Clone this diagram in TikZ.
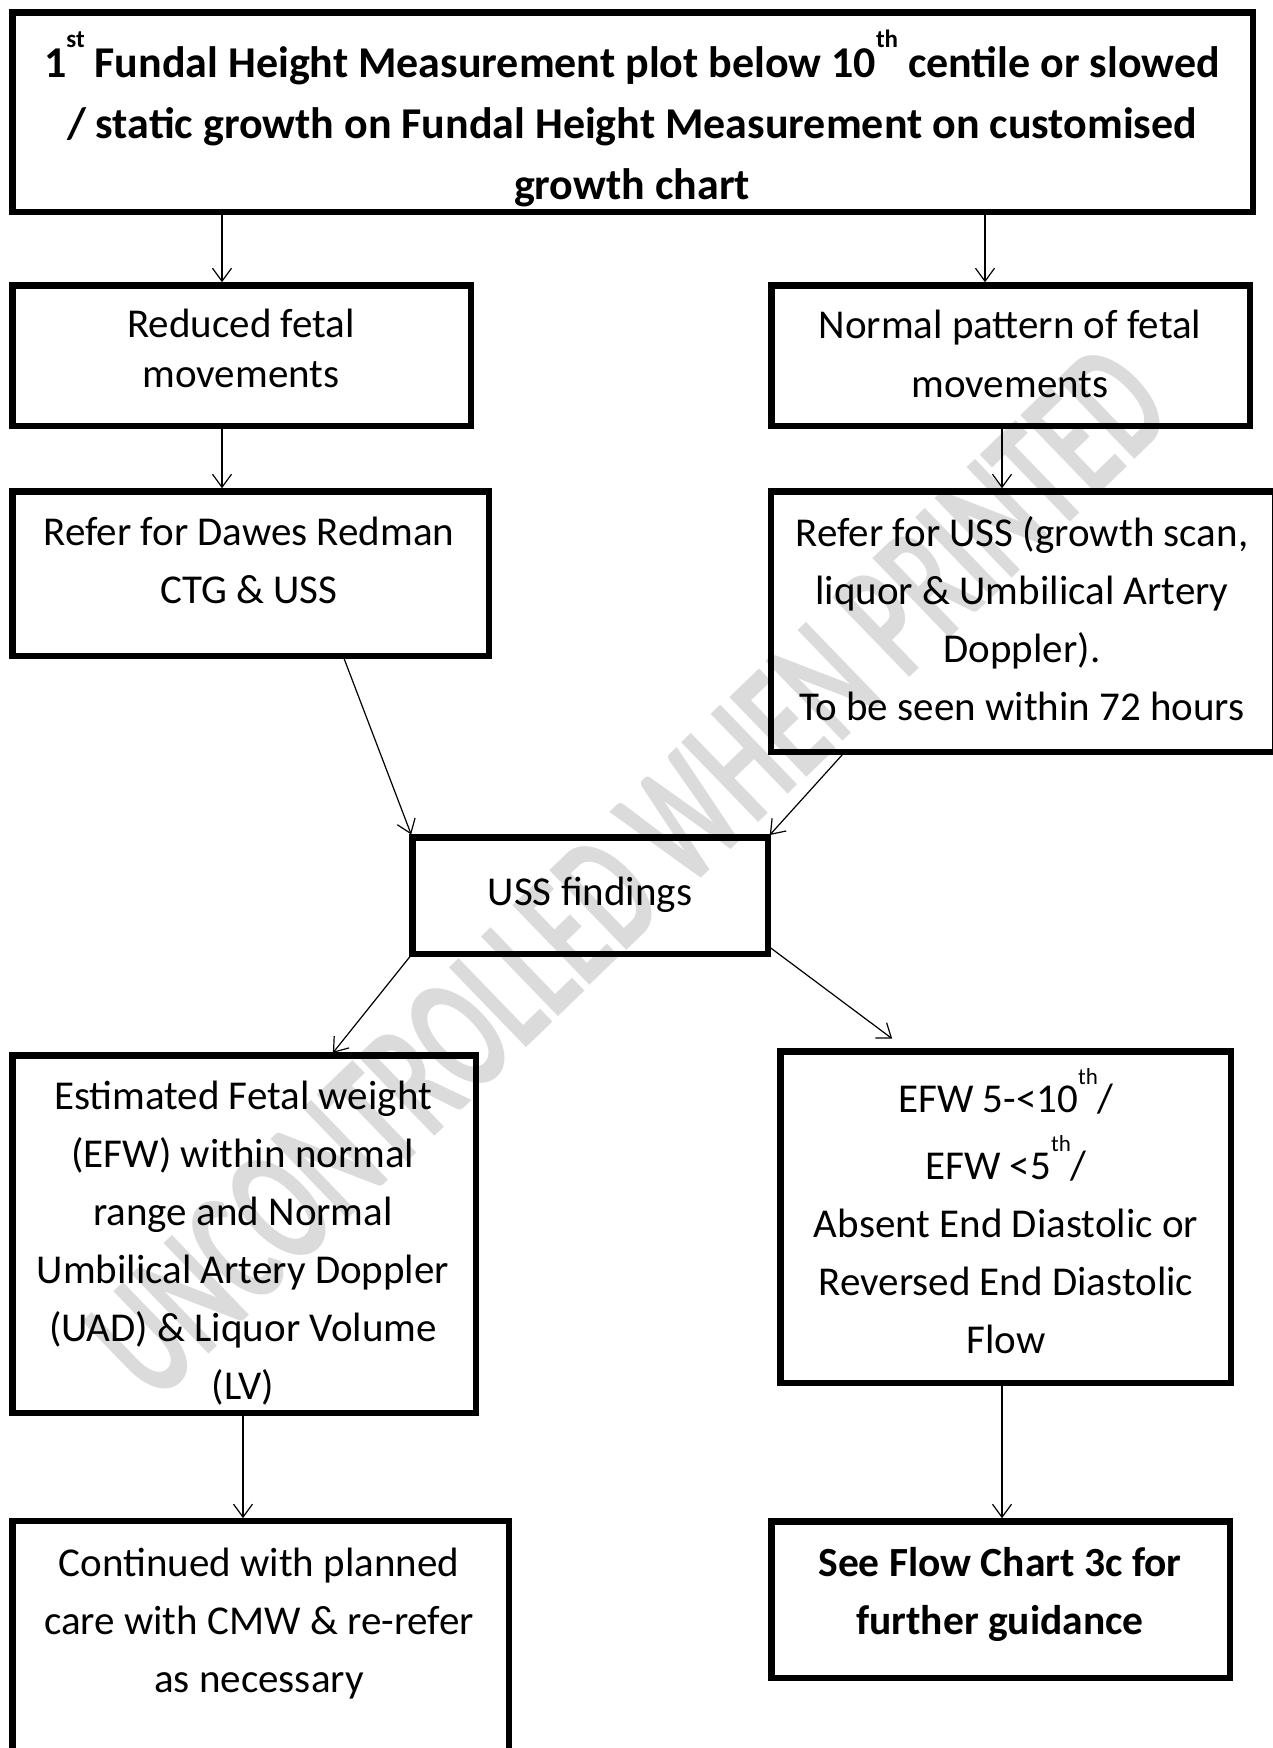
\documentclass[tikz,border=0pt]{standalone}
\usepackage{fontspec}
\setmainfont{Carlito}
\usetikzlibrary{arrows.meta}
% raised ordinal suffixes, as in 10th
\newcommand\supr[1]{\raisebox{28pt}{\fontsize{23}{23}\selectfont #1}}
\newcommand\suprbig[1]{\raisebox{30pt}{\fontsize{25}{25}\selectfont #1}}

\begin{document}
\begin{tikzpicture}[x=1pt,y=-1pt,
  box/.style={draw, line width=6.5pt, rectangle, inner sep=0pt, outer sep=0pt},
  txt/.style={align=center, inner sep=0pt, font=\fontsize{41}{58}\selectfont},
  arr/.style={line width=1.2pt, shorten >=3pt, -{Straight Barb[length=13pt,width=19pt]}},
  wmark/.style={inner sep=0pt, text=black!14, font=\fontsize{171}{171}\selectfont\bfseries}
]
\useasboundingbox (0,0) rectangle (1272,1748);

% watermark behind the chart
\node[wmark, rotate=44, xscale=0.61] (wm) at (628,872) {UNCONTROLLED WHEN PRINTED};

% boxes
\node[box, minimum width=1240.5pt, minimum height=199.5pt] (top) at (632.5,112) {};
\node[box, minimum width=458.5pt, minimum height=140.5pt] (red) at (241.5,355.5) {};
\node[box, minimum width=478.5pt, minimum height=140.5pt] (nor) at (1010.5,355.5) {};
\node[box, minimum width=476.5pt, minimum height=164.5pt] (daw) at (250.5,573.5) {};
\node[box, minimum width=503.75pt, minimum height=260.5pt] (ref) at (1023.1,621.5) {};
\node[box, minimum width=355.5pt, minimum height=116.5pt] (uss) at (590,895.5) {};
\node[box, minimum width=463.5pt, minimum height=357.5pt] (est) at (244,1234) {};
\node[box, minimum width=450.5pt, minimum height=331.5pt] (efw) at (1005.5,1217) {};
\node[box, minimum width=496.5pt, minimum height=229.75pt] (con) at (260.5,1636) {};
\node[box, minimum width=458.5pt, minimum height=156.5pt] (see) at (1000.5,1599.5) {};

% texts
\node[txt, font=\fontsize{44}{61}\selectfont\bfseries] (t-top) at (632,124)
  {\strut 1\suprbig{st} Fundal Height Measurement plot below 10\suprbig{th} centile or slowed\\
   / static growth on Fundal Height Measurement on customised\\
   growth chart\strut};
\node[txt, font=\fontsize{41}{50}\selectfont] (t-red) at (241,352)
  {\strut Reduced fetal\\ movements\strut};
\node[txt, font=\fontsize{41}{59}\selectfont] (t-nor) at (1010,356)
  {\strut Normal pattern of fetal\\ movements\strut};
\node[txt] (t-daw) at (249,563)
  {\strut Refer for Dawes Redman\\ CTG \& USS\strut};
\node[txt] (t-ref) at (1022,622)
  {\strut Refer for USS (growth scan,\\ liquor \& Umbilical Artery\\ Doppler).\\ To be seen within 72 hours\strut};
\node[txt] (t-uss) at (590,894) {\strut USS findings\strut};
\node[txt] (t-est) at (243,1243)
  {\strut Estimated Fetal weight\\ (EFW) within normal\\ range and Normal\\ Umbilical Artery Doppler\\ (UAD) \& Liquor Volume\\ (LV)\strut};
\node[txt] (t-efw) at (1006,1220)
  {\strut EFW 5-<10\supr{th}/\\[4.5pt] EFW <5\supr{th}/\\ Absent End Diastolic or\\ Reversed End Diastolic\\ Flow\strut};
\node[txt] (t-con) at (259,1623)
  {\strut Continued with planned\\ care with CMW \& re-refer\\ as necessary\strut};
\node[txt, font=\fontsize{41.5}{58}\selectfont\bfseries] (t-see) at (1000,1594)
  {\strut See Flow Chart 3c for\\ further guidance\strut};

% connector columns
\coordinate (x1) at (222,0);
\coordinate (x2) at (985,0);
\coordinate (x4) at (1002,0);
\coordinate (x5) at (343,0);
\coordinate (x6) at (845,0);
\coordinate (x7) at (331,0);
\coordinate (x8) at (909,0);
\coordinate (x9) at (243,0);

% connectors
\draw[arr] (top.south -| x1) -- (red.north -| x1);
\draw[arr] (top.south -| x2) -- (nor.north -| x2);
\draw[arr] (red.south -| x1) -- (daw.north -| x1);
\draw[arr] (nor.south -| x4) -- (ref.north -| x4);
\draw[arr] (daw.south -| x5) -- (uss.north west);
\draw[arr] (ref.south -| x6) -- (uss.north east);
\draw[arr] (uss.south west) -- (est.north -| x7);
\draw[arr, shorten >=21pt] ([yshift=8pt]uss.south east) -- (efw.north -| x8);
\draw[arr] (est.south -| x9) -- (con.north -| x9);
\draw[arr] (efw.south -| x4) -- (see.north -| x4);
\end{tikzpicture}
\end{document}
